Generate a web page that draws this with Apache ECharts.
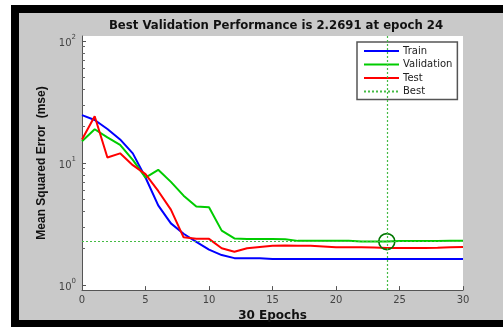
<!DOCTYPE html>
<html>
<head>
<meta charset="utf-8">
<script src="https://cdn.jsdelivr.net/npm/echarts@6/dist/echarts.min.js"></script>
<style>
  html, body { margin: 0; padding: 0; background: #ffffff; overflow: hidden; width: 503px; height: 327px; }
  #frame { position: absolute; left: 11px; top: 5px; width: 600px; height: 322px; background: #000; }
  #inner { position: absolute; left: 19px; top: 13px; width: 600px; height: 307px; background: #c9c9c9; }
  #chart { position: absolute; left: 0; top: 0; width: 503px; height: 327px; }
  #rightpad { position: absolute; left: 475px; top: 13px; width: 60px; height: 307px; background: #c9c9c9; z-index: 5; }
</style>
</head>
<body>
<div id="frame"></div>
<div id="inner"></div>
<div id="chart"></div>
<div id="rightpad"></div>
<script>
// ---- data ----
const epochs = [0,1,2,3,4,5,6,7,8,9,10,11,12,13,14,15,16,17,18,19,20,21,22,23,24,25,26,27,28,29,30];
const train = [24.7,22.5,19.0,15.6,12.0,7.6,4.5,3.2,2.63,2.26,1.95,1.76,1.66,1.66,1.66,1.63,1.63,1.63,1.63,1.63,1.63,1.63,1.63,1.63,1.63,1.63,1.63,1.63,1.63,1.63,1.63];
const validation = [15.1,18.9,16.2,14.1,10.6,7.6,8.8,7.0,5.4,4.4,4.33,2.79,2.41,2.38,2.38,2.38,2.37,2.30,2.30,2.30,2.30,2.30,2.27,2.27,2.2691,2.29,2.29,2.29,2.29,2.31,2.31];
const test = [15.6,24.2,11.1,12.0,9.6,8.1,5.9,4.15,2.46,2.39,2.39,2.0,1.87,2.0,2.05,2.1,2.11,2.1,2.1,2.07,2.04,2.04,2.04,2.03,2.01,2.01,2.01,2.01,2.02,2.04,2.05];
const bestEpoch = 24;
const bestValue = 2.2691;
const xTicks = [0,5,10,15,20,25,30];
const yTickBase = '10';
const yTickExps = ['0','1','2'];
const titleText = 'Best Validation Performance is 2.2691 at epoch 24';
const xName = '30 Epochs';
const yName = 'Mean Squared Error  (mse)';

// minor tick positions (log10 of 2..9 in each decade)
const minorTicks = [];
for (let d = 0; d < 2; d++) for (let m = 2; m <= 9; m++) minorTicks.push(d + Math.log10(m));

const pair = (arr) => epochs.map((e, i) => [e, arr[i]]);

const chart = echarts.init(document.getElementById('chart'), null, { renderer: 'canvas' });
const dv = 'DejaVu Sans';
chart.setOption({
  animation: false,
  backgroundColor: 'transparent',
  title: {
    text: titleText,
    left: 271, top: 15, textAlign: 'center',
    textStyle: { fontFamily: dv, fontSize: 11.7, fontWeight: 'bold', color: '#111' }
  },
  legend: {
    data: ['Train', 'Validation', 'Test', 'Best'],
    orient: 'vertical',
    left: 357, top: 42,
    padding: [4, 5, 3, 6],
    itemWidth: 35, itemHeight: 10, itemGap: 3.5,
    backgroundColor: '#fff',
    borderColor: '#555', borderWidth: 1.5, borderRadius: 0,
    selectedMode: false,
    itemStyle: { opacity: 0 },
    textStyle: { fontFamily: dv, fontSize: 10, color: '#222', padding: [0, 0, 0, -1] }
  },
  grid: [
    { left: 82, right: 40, top: 41, bottom: 42, show: false },
    { left: 82, right: 40, top: 36, bottom: 36, show: true, backgroundColor: '#fff', borderWidth: 0 }
  ],
  xAxis: [
    { gridIndex: 0, type: 'value', min: 0, max: 30, show: false },
    {
      gridIndex: 1, type: 'value', min: 0, max: 30, interval: 5,
      name: xName, nameLocation: 'middle', nameGap: 13,
      nameTextStyle: { fontFamily: dv, fontSize: 12, fontWeight: 'bold', color: '#111' },
      axisLine: { show: true, lineStyle: { color: '#555', width: 1 } },
      axisTick: { show: true, inside: true, length: 4, lineStyle: { color: '#555' } },
      axisLabel: { show: true, margin: 5, fontFamily: dv, fontSize: 10, color: '#444',
        formatter: (v) => xTicks.indexOf(v) >= 0 ? String(v) : '' },
      splitLine: { show: false }
    }
  ],
  yAxis: [
    {
      gridIndex: 0, type: 'log', logBase: 10, min: 1, max: 100, position: 'left',
      name: yName, nameLocation: 'middle', nameRotate: 90, nameGap: 28,
      nameTextStyle: { fontFamily: 'Liberation Sans', fontSize: 12, fontWeight: 'bold', color: '#111' },
      axisLine: { show: false },
      axisTick: { show: true, inside: true, length: 4, lineStyle: { color: '#555' } },
      axisLabel: {
        show: true, margin: 6,
        formatter: (v) => '{b|' + yTickBase + '}{s|' + yTickExps[Math.round(Math.log10(v))] + '}',
        rich: {
          b: { fontFamily: dv, fontSize: 10, color: '#444', lineHeight: 14, verticalAlign: 'bottom' },
          s: { fontFamily: dv, fontSize: 7, color: '#444', lineHeight: 7, verticalAlign: 'top' }
        }
      },
      splitLine: { show: false }
    },
    {
      gridIndex: 1, type: 'log', logBase: 10, min: Math.pow(10, -6 / 122), max: Math.pow(10, 2 + 5 / 122),
      position: 'left',
      axisLine: { show: true, lineStyle: { color: '#555', width: 1 } },
      axisTick: { show: false }, axisLabel: { show: false }, splitLine: { show: false }
    },
    {
      gridIndex: 0, type: 'value', min: 0, max: 2, position: 'left', offset: 0,
      axisLine: { show: false }, axisLabel: { show: false }, splitLine: { show: false },
      axisTick: { show: true, inside: true, length: 3, customValues: minorTicks, lineStyle: { color: '#666', width: 1 } }
    }
  ],
  series: [
    {
      name: 'Best', type: 'line', xAxisIndex: 1, yAxisIndex: 1, data: [],
      symbol: 'none', silent: true,
      lineStyle: { type: [2, 2], color: '#44bb44', width: 1 },
      itemStyle: { color: '#44bb44' },
      markLine: {
        silent: true, symbol: ['none', 'none'], label: { show: false },
        lineStyle: { type: [2, 2], color: '#44bb44', width: 1.2 },
        data: [{ xAxis: bestEpoch }, { yAxis: bestValue }]
      }
    },
    {
      name: 'Train', type: 'line', xAxisIndex: 0, yAxisIndex: 0, data: pair(train),
      symbol: 'none', lineStyle: { color: '#0000ff', width: 2 }, itemStyle: { color: '#0000ff' }
    },
    {
      name: 'Validation', type: 'line', xAxisIndex: 0, yAxisIndex: 0, data: pair(validation),
      symbol: 'none', lineStyle: { color: '#00cc00', width: 2 }, itemStyle: { color: '#00cc00' }
    },
    {
      name: 'Test', type: 'line', xAxisIndex: 0, yAxisIndex: 0, data: pair(test),
      symbol: 'none', lineStyle: { color: '#ff0000', width: 2 }, itemStyle: { color: '#ff0000' }
    },
    {
      name: 'BestPoint', type: 'line', xAxisIndex: 0, yAxisIndex: 0, data: [[bestEpoch, bestValue]],
      symbol: 'circle', symbolSize: 16, showSymbol: true,
      itemStyle: { color: 'rgba(0,0,0,0)', borderColor: '#007700', borderWidth: 1.6 },
      lineStyle: { width: 0 }, silent: true
    }
  ]
});
</script>
</body>
</html>
